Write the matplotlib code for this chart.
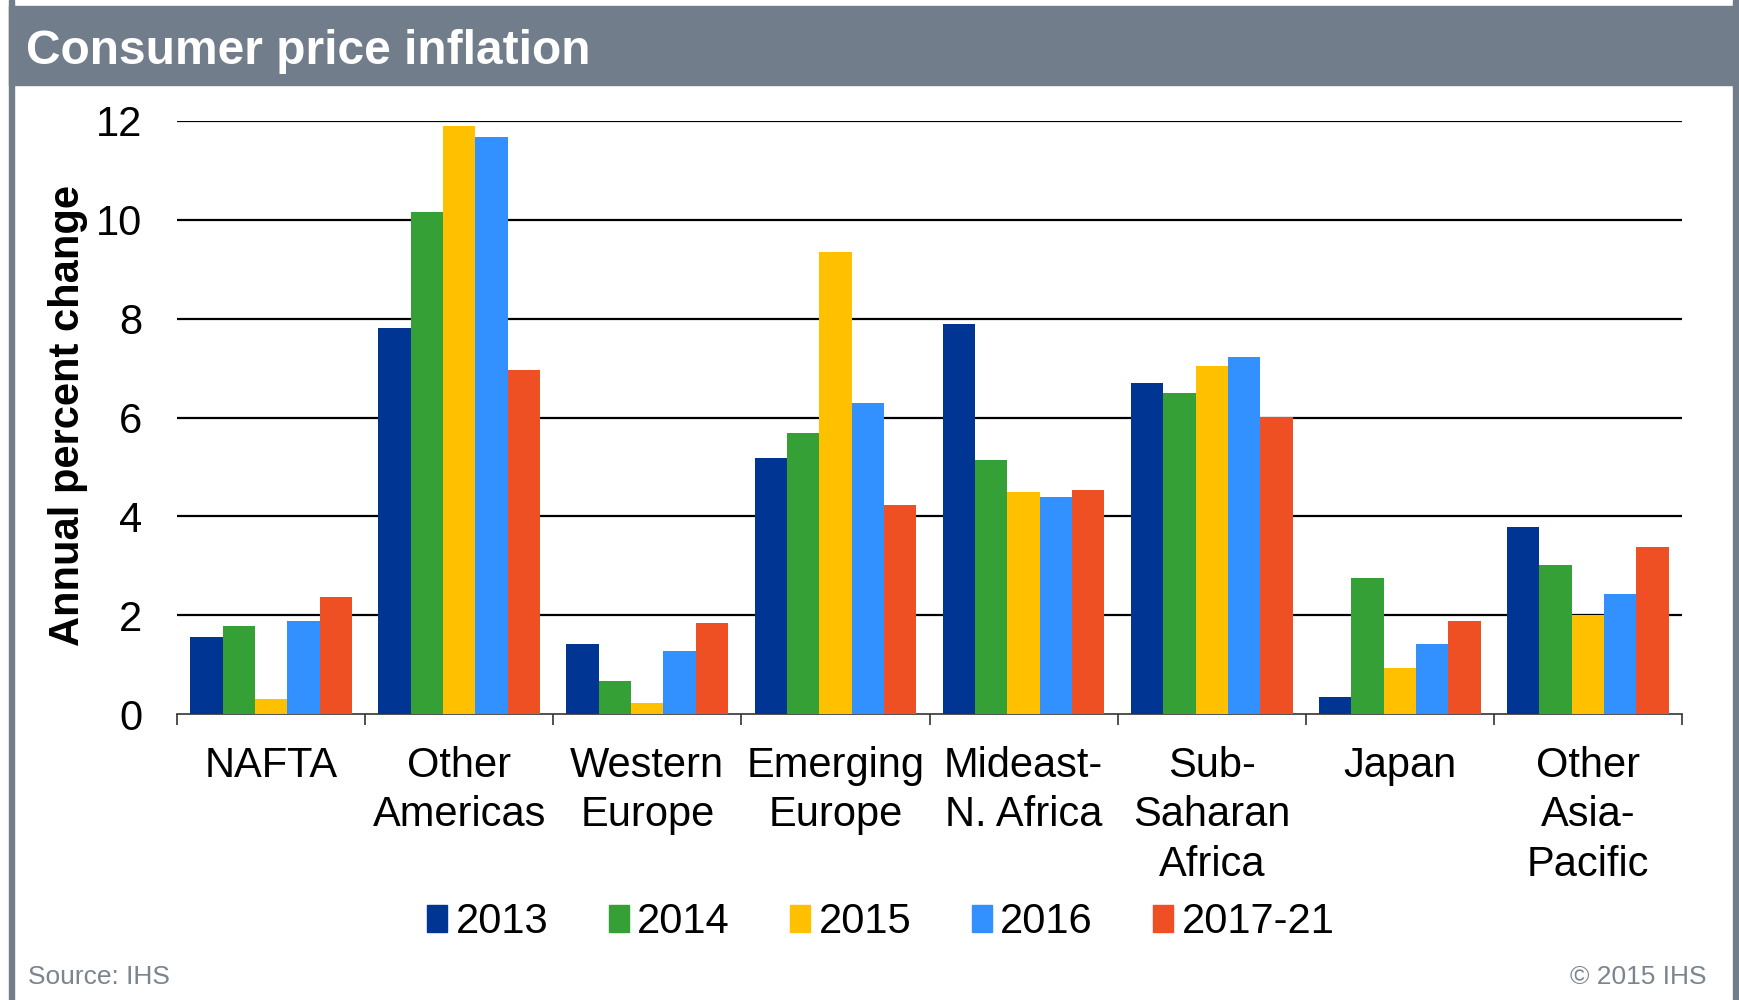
import matplotlib
matplotlib.use("Agg")
import numpy as np
import matplotlib.pyplot as plt
from matplotlib.patches import Rectangle, Patch

plt.rcParams['font.family'] = ['Liberation Sans', 'DejaVu Sans']

# ===========================
#      Data
# ===========================
regions = ["NAFTA", "Other\nAmericas", "Western\nEurope", "Emerging\nEurope",
           "Mideast-\nN. Africa", "Sub-\nSaharan\nAfrica", "Japan", "Other\nAsia-\nPacific"]
years = ["2013", "2014", "2015", "2016", "2017-21"]
v2013 = [1.55, 7.82, 1.41, 5.18, 7.89, 6.69, 0.35, 3.78]
v2014 = [1.79, 10.15, 0.67, 5.68, 5.14, 6.49, 2.75, 3.01]
v2015 = [0.30, 11.89, 0.23, 9.34, 4.50, 7.05, 0.94, 2.00]
v2016 = [1.89, 11.68, 1.28, 6.30, 4.40, 7.22, 1.42, 2.43]
v2017_21 = [2.37, 6.96, 1.84, 4.22, 4.53, 6.01, 1.88, 3.37]
series = [v2013, v2014, v2015, v2016, v2017_21]
colors = ["#003594", "#34a035", "#ffc000", "#3391ff", "#ef5023"]

W, H = 1739, 1000
fig = plt.figure(figsize=(W / 100, H / 100), dpi=100)

def fx(px):
    return px / W

def fy(py):
    return 1 - py / H

gray = "#717d8a"
# frame + title bar
fig.patches.append(Rectangle((fx(9), 0), fx(5), 1, transform=fig.transFigure, color=gray, zorder=0))
fig.patches.append(Rectangle((fx(1733), 0), fx(6), 1, transform=fig.transFigure, color=gray, zorder=0))
fig.patches.append(Rectangle((fx(9), fy(85)), fx(1730), fy(6) - fy(85), transform=fig.transFigure,
                             color=gray, zorder=0))
fig.text(fx(26), fy(64), "Consumer price inflation", color="white", fontsize=34.5,
         fontweight="bold", va="baseline", ha="left")

# ===========================
#      Bars
# ===========================
ax = fig.add_axes([fx(177), fy(714), fx(1682) - fx(177), fy(121) - fy(714)])
x = np.arange(len(regions))
bw = 0.172
for i, (vals, c) in enumerate(zip(series, colors)):
    ax.bar(x + (i - 2) * bw, vals, width=bw, color=c, linewidth=0, zorder=3, label=years[i])

ax.set_xlim(-0.5, len(regions) - 0.5)
ax.set_ylim(0, 12)
ax.set_yticks(range(0, 13, 2))
ax.set_xticks(x)
ax.set_xticklabels(regions, fontsize=30, linespacing=1.3)
ax.set_xticks(np.arange(-0.5, len(regions), 1), minor=True)
ax.tick_params(axis="x", which="major", length=0, pad=23)
ax.tick_params(axis="x", which="minor", length=8, width=1.2, color="#333333", direction="out")
ax.tick_params(axis="y", length=0, pad=25, labelsize=30)
ax.grid(axis="y", color="black", linewidth=1.6, zorder=1)
ax.set_axisbelow(True)
ax.yaxis.get_gridlines()[0].set_visible(False)
for s in ["top", "right", "left"]:
    ax.spines[s].set_visible(False)
ax.spines["bottom"].set_color("#333333")
ax.spines["bottom"].set_linewidth(1.2)

fig.text(fx(68), fy(416), "Annual percent change", rotation=90, fontsize=30,
         fontweight="bold", ha="center", va="center")

handles = [Patch(color=c, label=y) for c, y in zip(colors, years)]
fig.legend(handles=handles, loc="center", bbox_to_anchor=(fx(881), fy(922)), ncol=5,
           frameon=False, fontsize=30, handlelength=0.48, handleheight=0.6,
           handletextpad=0.2, columnspacing=1.45, borderpad=0)

fig.text(fx(28), fy(977), "Source: IHS", color="#7a8590", fontsize=19, ha="left", va="center")
fig.text(fx(1706), fy(977), "\u00a9 2015 IHS", color="#7a8590", fontsize=19, ha="right", va="center")

fig.savefig("out.png", dpi=100)
